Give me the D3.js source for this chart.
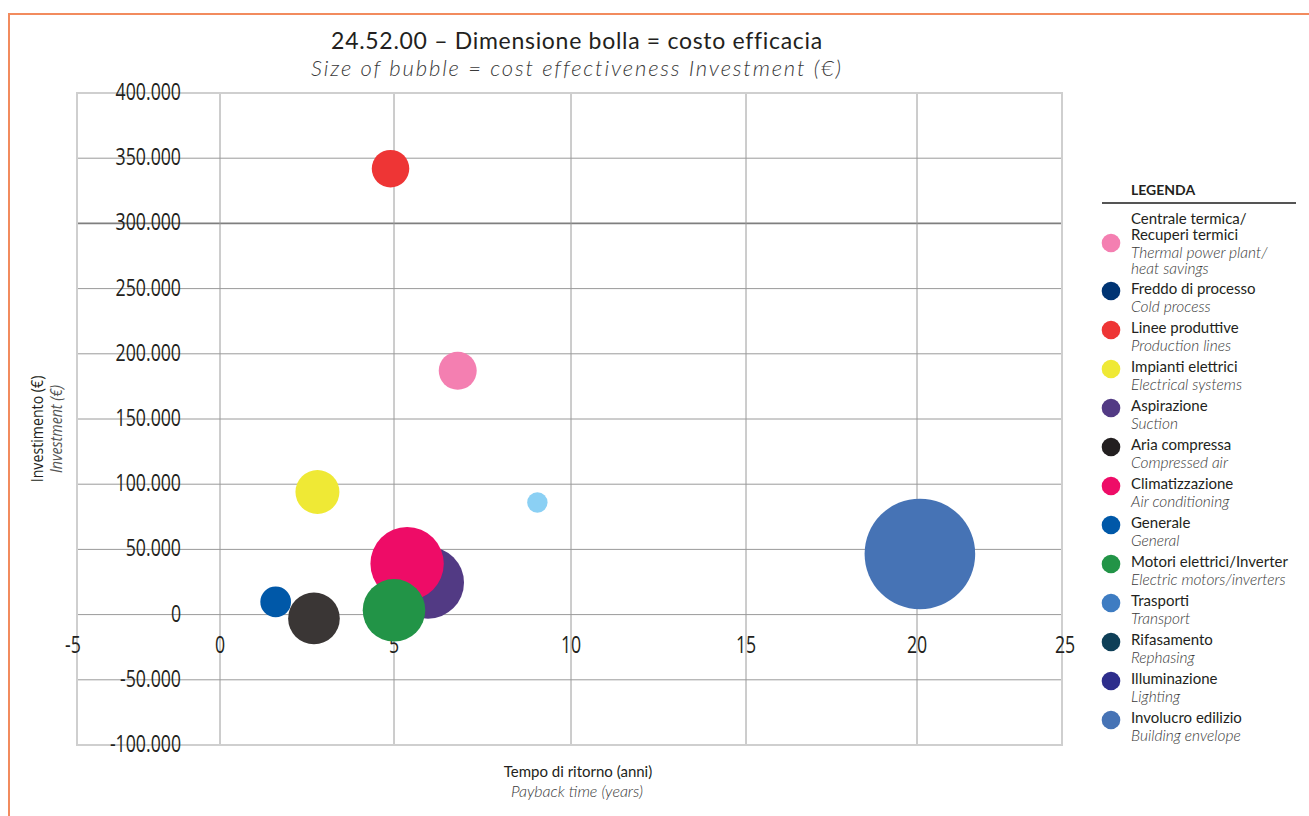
<!DOCTYPE html>
<html>
<head>
<meta charset="utf-8">
<script src="https://cdn.jsdelivr.net/npm/d3@7"></script>
<style>
  body { margin: 0; background: #fff; }
  svg { display: block; }
</style>
</head>
<body>
<svg id="chart" width="1309" height="816"></svg>
<script>
// ---- data ----
const xTicks = [-5, 0, 5, 10, 15, 20, 25];
const yTicks = [400000, 350000, 300000, 250000, 200000, 150000, 100000, 50000, 0, -50000, -100000];

const legendIt = ["Centrale termica/\nRecuperi termici", "Freddo di processo", "Linee produttive",
  "Impianti elettrici", "Aspirazione", "Aria compressa", "Climatizzazione", "Generale",
  "Motori elettrici/Inverter", "Trasporti", "Rifasamento", "Illuminazione", "Involucro edilizio"];
const legendEn = ["Thermal power plant/\nheat savings", "Cold process", "Production lines",
  "Electrical systems", "Suction", "Compressed air", "Air conditioning", "General",
  "Electric motors/inverters", "Transport", "Rephasing", "Lighting", "Building envelope"];
const legendColors = ["#f47fb1", "#003473", "#ee3535", "#efe935", "#523a84", "#231f20", "#ee0c67",
  "#0058a8", "#229447", "#3e7cc2", "#0e3f57", "#2e2e8c", "#4673b5"];

// bubbles: payback time (years), investment (€), cost effectiveness (bubble size)
const bubbleNames = ["Linee produttive", "Centrale termica", "Impianti elettrici", "Altro",
  "Involucro edilizio", "Aspirazione", "Climatizzazione", "Motori elettrici", "Aria compressa", "Generale"];
const bubblePayback = [4.9, 6.8, 2.8, 9.05, 20.1, 5.96, 5.37, 5.0, 2.7, 1.6];
const bubbleInvestment = [342000, 187000, 94000, 86000, 46500, 24500, 39000, 3300, -2900, 9700];
const bubbleCostEff = [11.5, 11.8, 15.8, 3.4, 100, 42.4, 44, 32, 21.8, 7.7];
const bubbleColors = ["#ee3535", "#f47fb1", "#efe935", "#8bd0f4", "#4673b5", "#523a84", "#ee0c67",
  "#229447", "#3a3635", "#0058a8"];

// ---- layout ----
const svg = d3.select("#chart");
const plot = { left: 77, right: 1062, top: 93, bottom: 745 };
const narrow = "'Open Sans', 'Liberation Sans', sans-serif";
const rounded = "Lato, 'Noto Sans', sans-serif";
const squeeze = 0.77;   // horizontal compression for the condensed axis lettering

// the horizontal axis is drawn with its own per-interval spacing
const x = d3.scaleLinear().domain(xTicks).range([plot.left, 220, 394, 571, 746, 917, plot.right]);
const y = d3.scaleLinear().domain([-100000, 400000]).range([plot.bottom, plot.top]);
const r = d3.scaleSqrt().domain([0, 100]).range([0, 55.3]);

const itFmt = d3.formatLocale({ decimal: ",", thousands: ".", grouping: [3], currency: ["€", ""], minus: "-" }).format(",");

// page frame
svg.append("path")
  .attr("d", "M9,816 L9,14 L1309,14")
  .attr("fill", "none").attr("stroke", "#f28b5e").attr("stroke-width", 2);

// titles
svg.append("text").attr("x", 577).attr("y", 49).attr("text-anchor", "middle")
  .style("font-family", rounded).style("font-size", "23px").style("letter-spacing", "0.7px")
  .style("fill", "#231f20")
  .text("24.52.00 – Dimensione bolla = costo efficacia");
svg.append("text").attr("x", 577).attr("y", 76).attr("text-anchor", "middle")
  .style("font-family", rounded).style("font-size", "22px").style("font-style", "italic")
  .style("letter-spacing", "1.85px")
  .style("font-weight", 300).style("fill", "#3a3a3a")
  .text("Size of bubble = cost effectiveness Investment (€)");

// grid
const g = svg.append("g");
g.selectAll("line.h").data(yTicks.filter(v => v !== 400000 && v !== -100000)).join("line")
  .attr("x1", plot.left).attr("x2", plot.right)
  .attr("y1", d => y(d)).attr("y2", d => y(d))
  .attr("stroke", d => d === 300000 ? "#7f7f7f" : "#9a9a9a")
  .attr("stroke-width", d => d === 300000 ? 1.8 : 1);
g.selectAll("line.v").data(xTicks.filter(v => v !== -5 && v !== 25)).join("line")
  .attr("y1", plot.top).attr("y2", plot.bottom)
  .attr("x1", d => x(d)).attr("x2", d => x(d))
  .attr("stroke", "#9a9a9a").attr("stroke-width", 1);
// plot frame
g.append("rect").attr("x", plot.left).attr("y", plot.top)
  .attr("width", plot.right - plot.left).attr("height", plot.bottom - plot.top)
  .attr("fill", "none").attr("stroke", "#cfcfcf").attr("stroke-width", 2);

// y tick labels, placed beside the vertical axis at x = 0
svg.append("g").selectAll("text").data(yTicks).join("text")
  .attr("transform", d => `translate(${x(0) - 39},${y(d) - 2}) scale(${squeeze},1)`)
  .attr("text-anchor", "end").attr("dominant-baseline", "central")
  .style("font-family", narrow).style("font-size", "23px").style("fill", "#231f20")
  .text(d => itFmt(d));

// x tick labels, below the horizontal axis at y = 0
svg.append("g").selectAll("text").data(xTicks).join("text")
  .attr("transform", d => `translate(${x(d) + (d === -5 ? -4 : d === 25 ? 3 : 0)},${y(0) + 29}) scale(${squeeze},1)`)
  .attr("text-anchor", "middle").attr("dominant-baseline", "central")
  .style("font-family", narrow).style("font-size", "23px").style("fill", "#231f20")
  .text(d => itFmt(d));

// bubbles
const bubbles = bubbleNames.map((n, i) => ({
  name: n, px: bubblePayback[i], inv: bubbleInvestment[i], ce: bubbleCostEff[i], color: bubbleColors[i]
}));
svg.append("g").selectAll("circle").data(bubbles).join("circle")
  .attr("cx", d => x(d.px)).attr("cy", d => y(d.inv)).attr("r", d => r(d.ce))
  .attr("fill", d => d.color);

// axis titles
const yt = svg.append("g").attr("transform", "translate(43,429) rotate(-90)");
yt.append("text").attr("text-anchor", "middle").attr("transform", "scale(0.86,1)")
  .style("font-family", narrow).style("font-size", "16.5px").style("fill", "#231f20")
  .text("Investimento (€)");
yt.append("text").attr("y", 19).attr("text-anchor", "middle").attr("transform", "scale(0.86,1)")
  .style("font-family", narrow).style("font-size", "16.5px").style("font-style", "italic").style("fill", "#555")
  .text("Investment (€)");

svg.append("text").attr("x", 578).attr("y", 777).attr("text-anchor", "middle")
  .style("font-family", rounded).style("font-size", "15px").style("fill", "#231f20")
  .text("Tempo di ritorno (anni)");
svg.append("text").attr("x", 577).attr("y", 797).attr("text-anchor", "middle")
  .style("font-family", rounded).style("font-size", "16px").style("font-style", "italic")
  .style("font-weight", 300).style("fill", "#3a3a3a")
  .text("Payback time (years)");

// legend
const lg = svg.append("g");
lg.append("text").attr("x", 1131).attr("y", 195)
  .style("font-family", rounded).style("font-size", "14px").style("font-weight", 700).style("fill", "#231f20")
  .text("LEGENDA");
lg.append("line").attr("x1", 1102).attr("x2", 1296).attr("y1", 203).attr("y2", 203)
  .attr("stroke", "#555").attr("stroke-width", 2);

let cursor = 218;
legendIt.forEach((name, i) => {
  const itLines = name.split("\n");
  const enLines = legendEn[i].split("\n");
  const item = lg.append("g");
  let ly = cursor;
  itLines.forEach(t => {
    item.append("text").attr("x", 1131).attr("y", ly).attr("dominant-baseline", "central")
      .style("font-family", rounded).style("font-size", "15px").style("fill", "#231f20").text(t);
    ly += 16;
  });
  ly += 2;
  enLines.forEach(t => {
    item.append("text").attr("x", 1131).attr("y", ly).attr("dominant-baseline", "central")
      .style("font-family", rounded).style("font-size", "15.5px").style("font-style", "italic")
      .style("font-weight", 300).style("fill", "#3a3a3a").text(t);
    ly += 16;
  });
  const cy = itLines.length > 1 ? (cursor + ly - 16) / 2 : cursor + 3;
  item.append("circle").attr("cx", 1111).attr("cy", cy).attr("r", 9.3).attr("fill", legendColors[i]);
  cursor = ly + (itLines.length > 1 ? 4 : 5);
});
</script>
</body>
</html>
